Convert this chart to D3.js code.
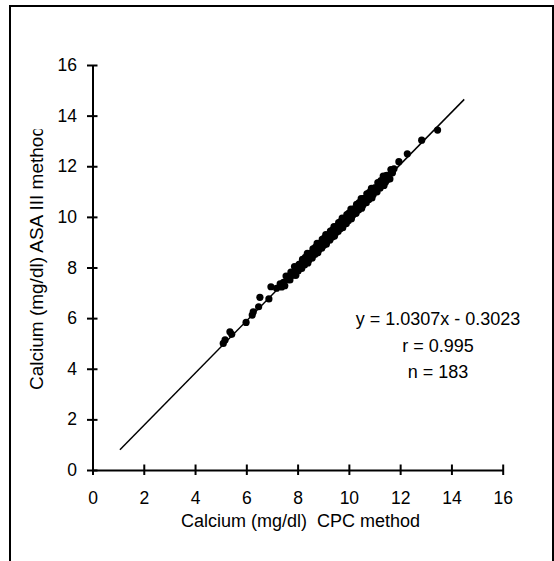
<!DOCTYPE html>
<html>
<head>
<meta charset="utf-8">
<script src="https://cdn.jsdelivr.net/npm/d3@7"></script>
<style>
  body { margin: 0; background: #fff; }
  text { font-family: "Liberation Sans", Arial, sans-serif; fill: #000; }
</style>
</head>
<body>
<svg id="chart" width="554" height="561"></svg>
<script>

// CPC method (x) and ASA III method (y), mg/dl
var cpcValues = [
    5.10, 5.17, 5.36, 5.43, 5.99, 6.23, 6.27, 6.48, 6.53, 6.88, 6.96, 7.18,
    7.32, 7.38, 7.45, 7.50, 7.55, 7.61, 7.66, 7.70, 7.74, 7.80, 7.85, 7.88, 7.93, 7.97,
    8.02, 8.05, 8.08, 8.10, 8.13, 8.16, 8.19, 8.22, 8.25, 8.27, 8.30, 8.33, 8.35, 8.38, 8.40,
    8.43, 8.45, 8.48, 8.50, 8.52, 8.55, 8.57, 8.60, 8.62, 8.64, 8.67, 8.70, 8.72, 8.74, 8.76,
    8.79, 8.81, 8.83, 8.86, 8.88, 8.90, 8.92, 8.94, 8.96, 8.98,
    9.00, 9.02, 9.04, 9.06, 9.08, 9.10, 9.12, 9.14, 9.16, 9.18, 9.20, 9.22, 9.24, 9.26, 9.28,
    9.30, 9.32, 9.34, 9.36, 9.38, 9.40, 9.42, 9.44, 9.46, 9.48, 9.50, 9.52, 9.54, 9.56, 9.58,
    9.60, 9.62, 9.64, 9.66, 9.68, 9.70, 9.72, 9.74, 9.76, 9.78, 9.80, 9.82, 9.84, 9.86, 9.88,
    9.90, 9.92, 9.94, 9.96, 9.98,
    10.00, 10.03, 10.05, 10.08, 10.10, 10.12, 10.15, 10.18, 10.20, 10.22, 10.25, 10.28, 10.30,
    10.33, 10.35, 10.38, 10.40, 10.43, 10.45, 10.48, 10.50, 10.53, 10.55, 10.58, 10.60, 10.63,
    10.66, 10.68, 10.70, 10.73, 10.76, 10.78, 10.80, 10.83, 10.86, 10.88, 10.90, 10.93, 10.95, 10.98,
    11.01, 11.04, 11.07, 11.10, 11.13, 11.16, 11.19, 11.22, 11.25, 11.28, 11.31, 11.34, 11.37,
    11.40, 11.43, 11.46, 11.49, 11.52, 11.55, 11.60, 11.64, 11.70, 11.76,
    11.95, 12.28, 12.84, 13.46
];

var asaValues = [
    5.00, 5.14, 5.46, 5.36, 5.83, 6.12, 6.25, 6.45, 6.82, 6.76, 7.24, 7.18,
    7.35, 7.23, 7.41, 7.28, 7.66, 7.52, 7.66, 7.51, 7.82, 7.69, 7.79, 8.04, 7.69, 7.96,
    7.86, 8.11, 8.13, 7.97, 8.11, 7.96, 8.32, 8.15, 8.27, 8.10, 8.40, 8.24, 8.31, 8.56, 8.18,
    8.44, 8.31, 8.56, 8.56, 8.40, 8.54, 8.38, 8.74, 8.56, 8.67, 8.51, 8.81, 8.64, 8.71, 8.95,
    8.58, 8.83, 8.70, 8.95, 8.95, 8.79, 8.92, 8.76, 9.11, 8.93,
    9.05, 8.88, 9.16, 8.99, 9.06, 9.30, 8.92, 9.17, 9.04, 9.28, 9.28, 9.12, 9.25, 9.09, 9.44,
    9.26, 9.37, 9.20, 9.48, 9.31, 9.38, 9.62, 9.24, 9.49, 9.36, 9.61, 9.61, 9.45, 9.58, 9.42,
    9.77, 9.59, 9.70, 9.53, 9.81, 9.64, 9.71, 9.95, 9.57, 9.82, 9.69, 9.93, 9.93, 9.77, 9.90,
    9.74, 10.09, 9.91, 10.02, 9.85,
    10.15, 9.99, 10.06, 10.31, 9.93, 10.18, 10.06, 10.31, 10.31, 10.15, 10.29, 10.14, 10.49,
    10.32, 10.43, 10.27, 10.56, 10.40, 10.47, 10.72, 10.34, 10.60, 10.47, 10.72, 10.72, 10.57,
    10.71, 10.56, 10.91, 10.74, 10.86, 10.69, 10.97, 10.81, 10.89, 11.13, 10.75, 11.01, 10.88, 11.13,
    11.15, 11.00, 11.14, 10.99, 11.35, 11.18, 11.30, 11.14, 11.43, 11.27, 11.36, 11.61, 11.24,
    11.50, 11.38, 11.63, 11.64, 11.49, 11.63, 11.50, 11.87, 11.74, 11.90,
    12.18, 12.49, 13.03, 13.43
];

var tickValues = [0, 2, 4, 6, 8, 10, 12, 14, 16];
var fitSlope = 1.0307;
var fitIntercept = -0.3023;
var fitRange = [1.07, 14.5];
var statLines = ["y = 1.0307x - 0.3023", "r = 0.995", "n = 183"];

var svg = d3.select("#chart");

svg.append("rect").attr("x", 10).attr("y", 6).attr("width", 543).attr("height", 600)
    .attr("fill", "none").attr("stroke", "#000").attr("stroke-width", 2);

var x = d3.scaleLinear().domain([0, 16]).range([92.5, 502.7]);
var y = d3.scaleLinear().domain([0, 16]).range([470, 65]);

var xAxis = svg.append("g").attr("transform", "translate(0,470)")
    .call(d3.axisBottom(x).tickValues(tickValues).tickSize(5).tickSizeOuter(0).tickPadding(16.5));
xAxis.selectAll(".tick line").attr("y1", -5.5);

var yAxis = svg.append("g").attr("transform", "translate(92.5,0)")
    .call(d3.axisLeft(y).tickValues(tickValues).tickSize(5.5).tickSizeOuter(0).tickPadding(10));
yAxis.selectAll(".tick line").attr("x1", 5);

svg.selectAll(".domain, .tick line").attr("stroke", "#000").attr("stroke-width", 2);
svg.selectAll(".tick text").style("font-size", "17.5px").style("font-family", "'Liberation Sans', Arial, sans-serif");

// regression line
svg.append("line")
    .attr("x1", x(fitRange[0])).attr("y1", y(fitSlope * fitRange[0] + fitIntercept))
    .attr("x2", x(fitRange[1])).attr("y2", y(fitSlope * fitRange[1] + fitIntercept))
    .attr("stroke", "#000").attr("stroke-width", 1.5);

svg.append("g").selectAll("circle").data(cpcValues).enter().append("circle")
    .attr("cx", function(d) { return x(d); })
    .attr("cy", function(d, i) { return y(asaValues[i]); })
    .attr("r", 3.6).attr("fill", "#000");

svg.selectAll(".stat").data(statLines).enter().append("text").attr("class", "stat")
    .attr("x", 438).attr("y", function(d, i) { return 325 + i * 26.5; })
    .attr("text-anchor", "middle").style("font-size", "18px").text(function(d) { return d; });

svg.append("text").attr("x", 300.5).attr("y", 527).attr("text-anchor", "middle")
    .style("font-size", "18px").style("white-space", "pre").text("Calcium (mg/dl)  CPC method");

// y title is cut off at the top, as in the original
svg.append("clipPath").attr("id", "ytitle-clip").append("rect")
    .attr("x", 0).attr("y", 129).attr("width", 90).attr("height", 400);

svg.append("g").attr("clip-path", "url(#ytitle-clip)").append("text")
    .attr("transform", "translate(43,258) rotate(-90)").attr("text-anchor", "middle")
    .style("font-size", "19px").text("Calcium (mg/dl) ASA III method");

</script>
</body>
</html>
